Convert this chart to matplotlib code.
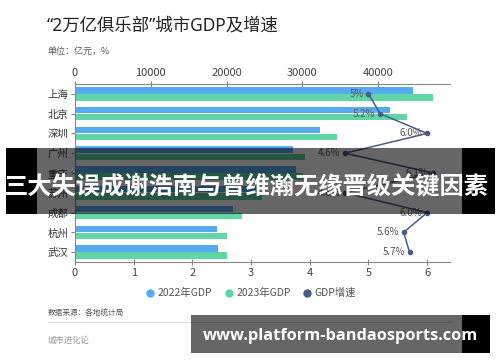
import matplotlib
matplotlib.use("Agg")
import matplotlib.pyplot as plt
from matplotlib.patches import Rectangle
from matplotlib.lines import Line2D

plt.rcParams['font.family'] = ['Noto Sans CJK SC', 'DejaVu Sans']

# 数据
cities = ['上海', '北京', '深圳', '广州', '重庆', '苏州', '成都', '杭州', '武汉']
gdp_2022 = [44653, 41611, 32388, 28839, 29129, 23958, 20818, 18753, 18866]
gdp_2023 = [47219, 43761, 34606, 30356, 30146, 24653, 22075, 20059, 20012]
growth = [5.0, 5.2, 6.0, 4.6, 6.1, 4.6, 6.0, 5.6, 5.7]
growth_labels = ['5%', '5.2%', '6.0%', '4.6%', '6.1%', '4.6%', '6.0%', '5.6%', '5.7%']
gdp_ticks = [0, 10000, 20000, 30000, 40000]
growth_ticks = [0, 1, 2, 3, 4, 5, 6]

c22 = '#58aaf0'
c23 = '#5fd6a6'
cline = '#4b5b8a'

W, H = 500, 362
fig = plt.figure(figsize=(W / 100, H / 100), dpi=100)
fig.patch.set_facecolor('white')

def fx(px):
    return px / W

def fy(py):
    return 1 - py / H

ax = fig.add_axes([fx(75), fy(262), fx(450) - fx(75), fy(84) - fy(262)])
ax2 = ax.twiny()
ypos = list(range(len(cities)))

# 柱状图 (GDP, 顶部坐标轴)
ax.barh([y - 0.18 for y in ypos], gdp_2022, height=0.33, color=c22, zorder=2)
ax.barh([y + 0.18 for y in ypos], gdp_2023, height=0.33, color=c23, zorder=2)
ax.set_xlim(0, 49500)
ax.set_ylim(8.5, -0.5)
ax.set_yticks(ypos)
ax.set_yticklabels(cities, fontsize=7.5, color='#333333')
ax.xaxis.tick_top()
ax.xaxis.set_label_position('top')
ax.set_xticks(gdp_ticks)
ax.set_xticklabels([str(t) for t in gdp_ticks], fontsize=8, color='#444444')
ax.tick_params(axis='x', direction='inout', length=4, width=0.8, color='#888888', pad=2)
ax.tick_params(axis='y', direction='out', length=3, width=0.8, color='#888888', pad=2)
for s in ['right', 'bottom']:
    ax.spines[s].set_visible(False)
for s in ['top', 'left']:
    ax.spines[s].set_color('#888888')
    ax.spines[s].set_linewidth(0.8)

# 折线 (增速, 底部坐标轴)
ax2.plot(growth, ypos, color=cline, lw=1.1, marker='o', ms=3, zorder=3)
for g, y, lab in zip(growth, ypos, growth_labels):
    ax2.text(g - 0.08, y, lab, ha='right', va='center', fontsize=7, color='#555555')
ax2.set_xlim(0, 6.39)
ax2.set_ylim(8.5, -0.5)
ax2.xaxis.tick_bottom()
ax2.xaxis.set_label_position('bottom')
ax2.set_xticks(growth_ticks)
ax2.set_xticklabels([str(t) for t in growth_ticks], fontsize=8, color='#444444')
ax2.tick_params(axis='x', direction='inout', length=4, width=0.8, color='#888888', pad=2)
for s in ['right', 'top', 'left']:
    ax2.spines[s].set_visible(False)
ax2.spines['bottom'].set_color('#888888')
ax2.spines['bottom'].set_linewidth(0.8)

# 标题
fig.text(fx(47), fy(25), '“2万亿俱乐部”城市GDP及增速', fontsize=12.5, color='#222222',
         va='center', family=['Noto Sans', 'Noto Sans CJK SC'])
fig.text(fx(48), fy(51), '单位：亿元，%', fontsize=6.5, color='#555555', va='center')

# 图例
handles = [Line2D([], [], marker='o', ls='', ms=5, color=c) for c in (c22, c23, cline)]
fig.legend(handles, ['2022年GDP', '2023年GDP', 'GDP增速'], loc='center',
           bbox_to_anchor=(fx(250), fy(293)), ncol=3, frameon=False, fontsize=7.5,
           handletextpad=0.1, columnspacing=1.0, handlelength=1.2, labelcolor='#555555')

# 来源
fig.text(fx(48), fy(314), '数据来源：各地统计局', fontsize=5.5, color='#555555', va='center')
fig.add_artist(Line2D([fx(48), fx(450)], [fy(322), fy(322)], color='#dddddd', lw=0.8))
fig.text(fx(48), fy(340), '城市进化论', fontsize=6, color='#999999', va='center')

# 遮挡横幅
fig.add_artist(Rectangle((fx(37), fy(214)), fx(462) - fx(37), fy(148) - fy(214),
                         transform=fig.transFigure, color='black', alpha=0.6, lw=0, zorder=10))
fig.add_artist(Rectangle((fx(6), fy(214)), fx(37) - fx(6), fy(148) - fy(214),
                         transform=fig.transFigure, color='black', lw=0, zorder=10))
fig.add_artist(Rectangle((fx(462), fy(214)), fx(495) - fx(462), fy(148) - fy(214),
                         transform=fig.transFigure, color='black', lw=0, zorder=10))
fig.text(fx(246), fy(186), '三大失误成谢浩南与曾维瀚无缘晋级关键因素', fontsize=17.5,
         fontweight='bold', color='white', ha='center', va='center', zorder=11)

# 底部水印
fig.add_artist(Rectangle((fx(191), fy(353)), fx(462) - fx(191), fy(315) - fy(353),
                         transform=fig.transFigure, color='black', alpha=0.6, lw=0, zorder=10))
fig.add_artist(Rectangle((fx(462), fy(353)), fx(490) - fx(462), fy(315) - fy(353),
                         transform=fig.transFigure, color='black', lw=0, zorder=10))
fig.text(fx(340), fy(336), 'www.platform-bandaosports.com', fontsize=11.8,
         fontweight='bold', color='white', ha='center', va='center', zorder=11,
         family=['Open Sans', 'DejaVu Sans'])

fig.savefig('out.png', dpi=100)
